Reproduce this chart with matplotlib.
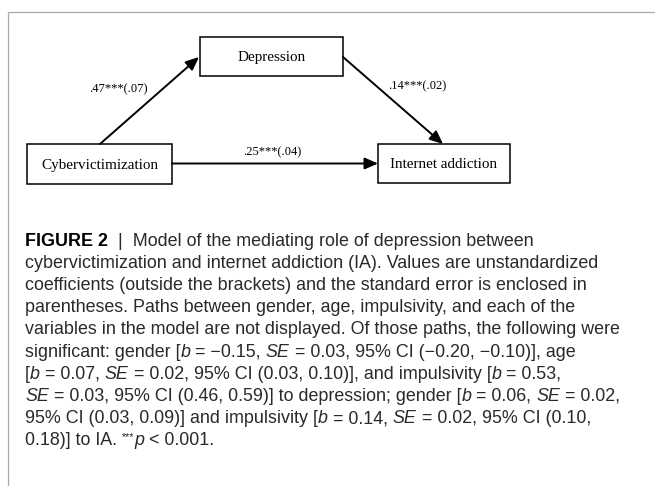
import matplotlib
matplotlib.use("Agg")
import matplotlib.pyplot as plt
from matplotlib import font_manager as fm
from matplotlib.patches import Rectangle

# ---------------- data ----------------
nodes = ["Cybervictimization", "Depression", "Internet addiction"]
path_from = [0, 1, 0]
path_to = [1, 2, 2]
coef = [".47", ".14", ".25"]
se = [".07", ".02", ".04"]
stars = ["***", "***", "***"]

caption_lines = [
    [("FIGURE 2", "b"), ("  |  Model of the mediating role of depression between", "n")],
    [("cybervictimization and internet addiction (IA). Values are unstandardized", "n")],
    [("coefficients (outside the brackets) and the standard error is enclosed in", "n")],
    [("parentheses. Paths between gender, age, impulsivity, and each of the", "n")],
    [("variables in the model are not displayed. Of those paths, the following were", "n")],
    [("significant: gender [", "n"), ("b", "i"), (" = \u22120.15, ", "n"), ("SE", "i"),
     (" = 0.03, 95% CI (\u22120.20, \u22120.10)], age", "n")],
    [("[", "n"), ("b", "i"), (" = 0.07, ", "n"), ("SE", "i"),
     (" = 0.02, 95% CI (0.03, 0.10)], and impulsivity [", "n"), ("b", "i"), (" = 0.53,", "n")],
    [("SE", "i"), (" = 0.03, 95% CI (0.46, 0.59)] to depression; gender [", "n"), ("b", "i"),
     (" = 0.06, ", "n"), ("SE", "i"), (" = 0.02,", "n")],
    [("95% CI (0.03, 0.09)] and impulsivity [", "n"), ("b", "i"), (" = 0.14, ", "n"),
     ("SE", "i"), (" = 0.02, 95% CI (0.10,", "n")],
    [("0.18)] to IA. ", "n"), ("***", "s"), ("p", "i"), (" < 0.001.", "n")],
]

# ---------------- figure ----------------
W, H = 655, 486
fig = plt.figure(figsize=(W / 100, H / 100), dpi=100)
ax = fig.add_axes([0, 0, 1, 1])
ax.set_xlim(0, W)
ax.set_ylim(H, 0)
ax.axis("off")

avail = {f.name for f in fm.fontManager.ttflist}
serif = "Liberation Serif" if "Liberation Serif" in avail else "DejaVu Serif"
sans = "Liberation Sans" if "Liberation Sans" in avail else "DejaVu Sans"

# outer frame (top and left rules)
ax.plot([7.5, W], [12.5, 12.5], color="#a8a8a8", lw=0.9, solid_capstyle="butt")
ax.plot([7.5, 7.5], [12.5, H], color="#a8a8a8", lw=0.9, solid_capstyle="butt")

# boxes: (x0, y0, x1, y1)
boxes = [(27, 144, 172, 184), (200, 37, 343, 76), (378, 144, 510, 183)]
for (x0, y0, x1, y1), name in zip(boxes, nodes):
    ax.add_patch(Rectangle((x0, y0), x1 - x0, y1 - y0, fill=False, ec="black", lw=1.1))
    ax.text((x0 + x1) / 2, (y0 + y1) / 2 + 1, name, family=serif, fontsize=10.9,
            ha="center", va="center")

# arrows
arrow_pts = [((100, 144), (199, 57)), ((343, 57), (443, 144)), ((172, 163.5), (378, 163.5))]
label_pos = [(118, 89), (417, 86), (272, 152)]
for i, ((s, e), lp) in enumerate(zip(arrow_pts, label_pos)):
    ax.annotate("", xy=e, xytext=s,
                arrowprops=dict(arrowstyle="-|>,head_length=0.8,head_width=0.35",
                                color="black", lw=1.4, shrinkA=0, shrinkB=0))
    ax.text(lp[0], lp[1], f"{coef[i]}{stars[i]}({se[i]})", family=serif, fontsize=9,
            ha="center", va="center")

# caption
renderer = fig.canvas.get_renderer()
fs = 11.6


def props(style, size):
    d = dict(family=sans, fontsize=size, color="#2a2a2a")
    if style == "b":
        d.update(weight="bold", color="black")
    elif style == "i":
        d.update(style="italic")
    elif style == "s":
        d.update(fontsize=size * 0.6)
    return d


def seg_width(s, style, size):
    t1 = ax.text(0, 0, s + "l", **props(style, size))
    t2 = ax.text(0, 0, "l", **props(style, size))
    w = t1.get_window_extent(renderer).width - t2.get_window_extent(renderer).width
    t1.remove()
    t2.remove()
    return w


# fit font size so the longest plain line spans the reference width
ref_w = 620 - 25
w0 = seg_width(caption_lines[4][0][0], "n", fs)
fs = fs * ref_w / w0

y0, dy = 241, 22.2
for li, segs in enumerate(caption_lines):
    x = 25
    y = y0 + li * dy
    for s, st in segs:
        yy = y - 4 if st == "s" else y
        ax.text(x, yy, s, ha="left", va="center", **props(st, fs))
        x += seg_width(s, st, fs)

fig.savefig("out.png", dpi=100)
